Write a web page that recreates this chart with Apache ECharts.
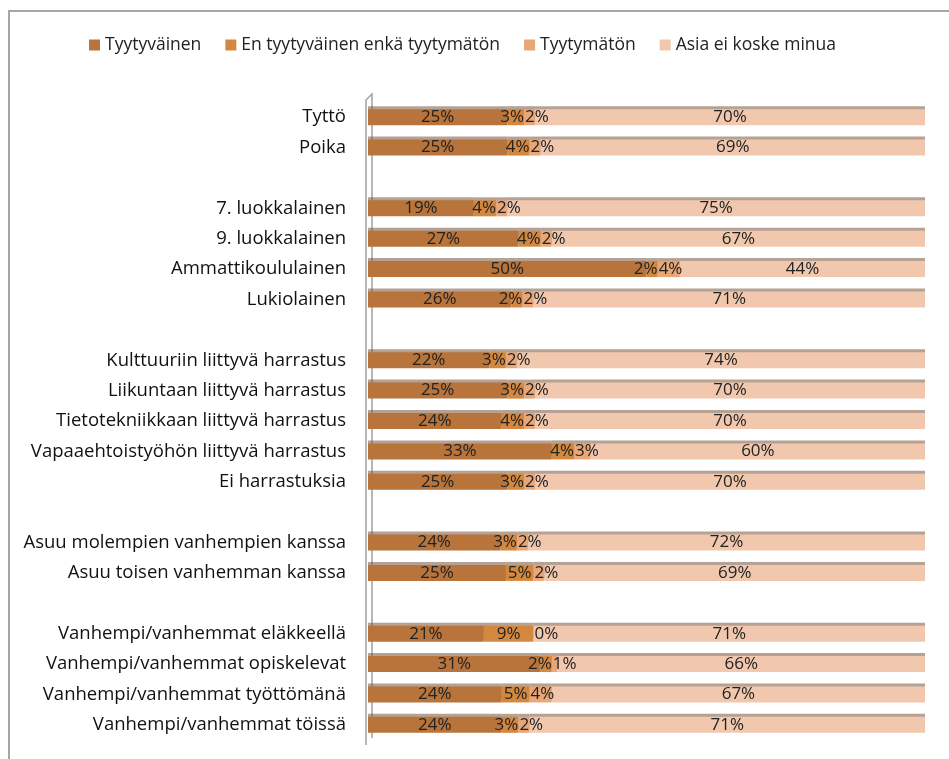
<!DOCTYPE html>
<html>
<head>
<meta charset="utf-8">
<script src="https://cdn.jsdelivr.net/npm/echarts@6/dist/echarts.min.js"></script>
<style>
  html, body { margin: 0; padding: 0; background: #fff; }
  #chart { width: 949px; height: 759px; }
</style>
</head>
<body>
<div id="chart"></div>
<script>
// rivit ylhäältä alas, tyhjät rivit = välit ryhmien välissä
const categories = [
  'Tyttö', 'Poika', ' ',
  '7. luokkalainen', '9. luokkalainen', 'Ammattikoululainen', 'Lukiolainen', '  ',
  'Kulttuuriin liittyvä harrastus', 'Liikuntaan liittyvä harrastus', 'Tietotekniikkaan liittyvä harrastus',
  'Vapaaehtoistyöhön liittyvä harrastus', 'Ei harrastuksia', '   ',
  'Asuu molempien vanhempien kanssa', 'Asuu toisen vanhemman kanssa', '    ',
  'Vanhempi/vanhemmat eläkkeellä', 'Vanhempi/vanhemmat opiskelevat',
  'Vanhempi/vanhemmat työttömänä', 'Vanhempi/vanhemmat töissä'
];

const seriesNames = ['Tyytyväinen', 'En tyytyväinen enkä tyytymätön', 'Tyytymätön', 'Asia ei koske minua'];

const tyytyvainen = [25, 25, null, 19, 27, 50, 26, null, 22, 25, 24, 33, 25, null, 24, 25, null, 21, 31, 24, 24];
const neutraali   = [3, 4, null, 4, 4, 2, 2, null, 3, 3, 4, 4, 3, null, 3, 5, null, 9, 2, 5, 3];
const tyytymaton  = [2, 2, null, 2, 2, 4, 2, null, 2, 2, 2, 3, 2, null, 2, 2, null, 0, 1, 4, 2];
const eiKoske     = [70, 69, null, 75, 67, 44, 71, null, 74, 70, 70, 60, 70, null, 72, 69, null, 71, 66, 67, 71];

const colors = ['#b8743a', '#d4883f', '#e9a677', '#f1c8ae'];

const raw = [tyytyvainen, neutraali, tyytymaton, eiKoske];
// 100 % pinottu: jokainen rivi skaalataan summaansa
const rowSums = categories.map((c, i) => raw.reduce((s, arr) => s + (arr[i] || 0), 0));

// kapeiden palojen tekstit siirretään vierekkäin, ettei ne mene päällekkäin
const nudgeLabel = (params) => {
  const r = params.rect, lr = params.labelRect;
  if (!lr || lr.width <= r.width) return {};
  if (params.seriesIndex === 1) return { dx: (r.x + r.width) - (lr.x + lr.width) };
  if (params.seriesIndex === 2) return { dx: r.x + 1 - lr.x };
  return {};
};

const chart = echarts.init(document.getElementById('chart'));

chart.setOption({
  animation: false,
  textStyle: { fontFamily: 'Open Sans' },
  legend: {
    top: 31,
    left: 84,
    itemWidth: 11,
    itemHeight: 11,
    itemGap: 24,
    icon: 'rect',
    textStyle: { fontSize: 17.5, color: '#222', fontFamily: 'Open Sans' },
    data: seriesNames
  },
  graphic: [{
    type: 'polyline',
    shape: { points: [[9, 759], [9, 11], [949, 11]] },
    style: { stroke: '#a6a6a6', lineWidth: 2, fill: null }
  }, {
    type: 'polyline',
    shape: { points: [[366, 745], [366, 100], [372, 94], [372, 738]] },
    style: { stroke: '#a0a0a0', lineWidth: 1.5, fill: null }
  }],
  grid: { left: 368, right: 24, top: 102, bottom: 19 },
  xAxis: {
    type: 'value',
    min: 0,
    max: 100,
    show: false
  },
  yAxis: {
    type: 'category',
    inverse: true,
    data: categories,
    axisTick: { show: false },
    axisLine: { show: false },
    axisLabel: { color: '#111', fontSize: 18.5, margin: 22, fontFamily: 'Open Sans' }
  },
  series: raw.map((arr, k) => ({
    name: seriesNames[k],
    type: 'bar',
    stack: 'kaikki',
    barWidth: 16,
    itemStyle: {
      color: colors[k],
      shadowColor: 'rgba(120, 85, 60, 0.55)',
      shadowOffsetY: -3,
      shadowBlur: 0
    },
    label: {
      show: true,
      position: 'inside',
      color: '#222',
      fontSize: 17,
      fontFamily: 'Open Sans',
      formatter: p => arr[p.dataIndex] == null ? '' : arr[p.dataIndex] + '%'
    },
    labelLayout: nudgeLabel,
    data: arr.map((v, i) => v == null ? null : v / rowSums[i] * 100)
  }))
});
</script>
</body>
</html>
